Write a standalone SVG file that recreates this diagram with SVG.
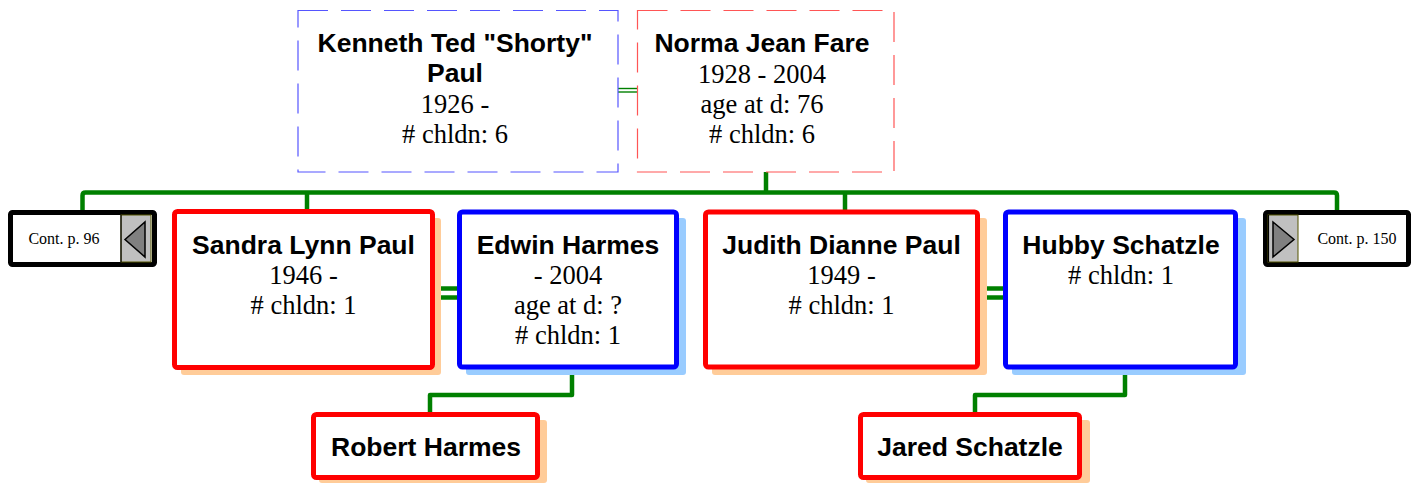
<svg xmlns="http://www.w3.org/2000/svg" width="1414" height="484" viewBox="0 0 1414 484">
<style>
.bg{fill:#ffffff}
.name{font-family:"Liberation Sans",Arial,sans-serif;font-weight:bold;font-size:26.5px;fill:#000;text-anchor:middle}
.info{font-family:"Liberation Serif","Times New Roman",serif;font-size:26.5px;fill:#000;text-anchor:middle}
.cont{font-family:"Liberation Serif","Times New Roman",serif;font-size:16px;fill:#000;text-anchor:middle}
.f{fill:#fff;stroke:#ff0000;stroke-width:5}
.m{fill:#fff;stroke:#0000ff;stroke-width:5}
.sf{fill:#ffcc99}
.sm{fill:#99ccff}
.dm{fill:#fff;stroke:#5555ff;stroke-width:1.2;stroke-dasharray:30 13}
.df{fill:#fff;stroke:#ff5555;stroke-width:1.2;stroke-dasharray:30 13}
.link{fill:none;stroke:#008000;stroke-width:4.5;stroke-linejoin:round}
.thin{fill:none;stroke:#008000;stroke-width:1.4}
.cb{fill:#fff;stroke:#000;stroke-width:5}
.btn{fill:#c0c0c0;stroke:#555500;stroke-width:1}
.tri{fill:#808080;stroke:#000;stroke-width:1.5;stroke-linejoin:miter}
</style>
<rect class="bg" x="0" y="0" width="1414" height="484"/>
<g id="connectors">
  <line class="thin" x1="618" y1="88.5" x2="637" y2="88.5"/>
  <line class="thin" x1="618" y1="92" x2="637" y2="92"/>
  <path class="link" d="M766,172 V192.5"/>
  <path class="link" d="M82.5,210 V195.5 Q82.5,192.5 85.5,192.5 H1334 Q1337,192.5 1337,195.5 V210"/>
  <path class="link" d="M307,192.5 V210"/>
  <path class="link" d="M845,192.5 V210"/>
  <line class="link" x1="437" y1="288.5" x2="458" y2="288.5"/>
  <line class="link" x1="437" y1="297.5" x2="458" y2="297.5"/>
  <line class="link" x1="982" y1="288.5" x2="1004" y2="288.5"/>
  <line class="link" x1="982" y1="297.5" x2="1004" y2="297.5"/>
  <path class="link" d="M572,370 V395 H430 V412"/>
  <path class="link" d="M1125,370 V395 H975 V412"/>
</g>
<g id="kenneth">
  <rect class="dm" x="298" y="10.5" width="320" height="161.5"/>
  <text class="name" x="455" y="52">Kenneth Ted "Shorty"</text>
  <text class="name" x="455" y="82">Paul</text>
  <text class="info" x="455" y="113">1926 -</text>
  <text class="info" x="455" y="143"># chldn: 6</text>
</g>
<g id="norma">
  <rect class="df" x="637.5" y="10.5" width="256.5" height="161.5"/>
  <text class="name" x="762" y="52">Norma Jean Fare</text>
  <text class="info" x="762" y="83">1928 - 2004</text>
  <text class="info" x="762" y="113">age at d: 76</text>
  <text class="info" x="762" y="143"># chldn: 6</text>
</g>
<g id="cont-left">
  <rect class="cb" x="10.5" y="212.5" width="144" height="52" rx="2"/>
  <rect class="btn" x="121" y="215" width="30" height="47"/>
  <line x1="121" y1="215" x2="121" y2="262" stroke="#000" stroke-width="1.2"/>
  <polygon class="tri" points="125,239.5 145,222 145,257"/>
  <text class="cont" x="64" y="244">Cont. p. 96</text>
</g>
<g id="sandra">
  <rect class="sf" x="181" y="218" width="260" height="157" rx="3"/>
  <rect class="f" x="174.5" y="211.5" width="258" height="156" rx="3"/>
  <text class="name" x="303.5" y="254">Sandra Lynn Paul</text>
  <text class="info" x="303.5" y="284">1946 -</text>
  <text class="info" x="303.5" y="314"># chldn: 1</text>
</g>
<g id="edwin">
  <rect class="sm" x="466" y="218" width="220" height="157" rx="3"/>
  <rect class="m" x="459.5" y="212" width="217" height="155" rx="3"/>
  <text class="name" x="568" y="254">Edwin Harmes</text>
  <text class="info" x="568" y="284">- 2004</text>
  <text class="info" x="568" y="314">age at d: ?</text>
  <text class="info" x="568" y="344"># chldn: 1</text>
</g>
<g id="judith">
  <rect class="sf" x="712" y="218" width="275" height="157" rx="3"/>
  <rect class="f" x="705.5" y="212" width="272" height="155" rx="3"/>
  <text class="name" x="841.5" y="254">Judith Dianne Paul</text>
  <text class="info" x="841.5" y="284">1949 -</text>
  <text class="info" x="841.5" y="314"># chldn: 1</text>
</g>
<g id="hubby">
  <rect class="sm" x="1012" y="218" width="234" height="157" rx="3"/>
  <rect class="m" x="1005.5" y="212" width="230" height="155" rx="3"/>
  <text class="name" x="1121" y="254">Hubby Schatzle</text>
  <text class="info" x="1121" y="284"># chldn: 1</text>
</g>
<g id="cont-right">
  <rect class="cb" x="1265.5" y="212.5" width="143" height="52" rx="2"/>
  <rect class="btn" x="1268" y="215" width="30" height="47"/>
  <line x1="1268.5" y1="215" x2="1268.5" y2="262" stroke="#000" stroke-width="1.2"/>
  <polygon class="tri" points="1273,222 1294,239.5 1273,257"/>
  <text class="cont" x="1357" y="244">Cont. p. 150</text>
</g>
<g id="robert">
  <rect class="sf" x="319" y="420" width="228" height="63" rx="3"/>
  <rect class="f" x="313.5" y="414.5" width="224" height="63" rx="3"/>
  <text class="name" x="426" y="456">Robert Harmes</text>
</g>
<g id="jared">
  <rect class="sf" x="866" y="420" width="224" height="63" rx="3"/>
  <rect class="f" x="860.5" y="414.5" width="219" height="63" rx="3"/>
  <text class="name" x="970" y="456">Jared Schatzle</text>
</g>
</svg>
